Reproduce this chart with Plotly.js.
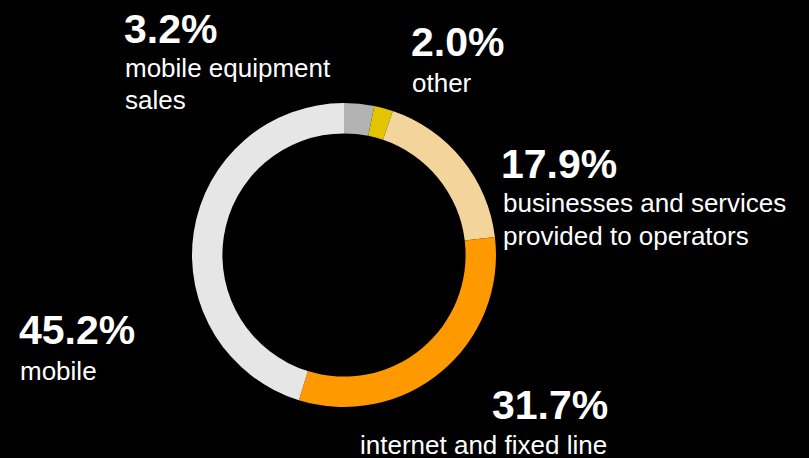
<!DOCTYPE html>
<html>
<head>
<meta charset="utf-8">
<script src="https://cdn.plot.ly/plotly-3.0.1.min.js"></script>
<style>html,body{margin:0;padding:0;background:#000;}#chart{width:809px;height:458px;}</style>
</head>
<body>
<div id="chart"></div>
<script>
var categories = ["mobile equipment sales", "other", "businesses and services provided to operators", "internet and fixed line", "mobile"];
var shares = [3.2, 2.0, 17.9, 31.7, 45.2];
var labelLines = [["mobile equipment", "sales"], ["other"], ["businesses and services", "provided to operators"], ["internet and fixed line"], ["mobile"]];
var sliceColors = ["#b3b3b3", "#e3c400", "#f3d59b", "#ff9900", "#e6e6e6"];

var W = 809, H = 458;
function px(x) { return x / W; }
function py(y) { return 1 - y / H; }

// label anchor positions (pixels): [pct left x, pct top y, label left x, label top y of first line, line step, label borderpad]
var labelPos = [
  [122, 4, 123, 51.5, 31, 1],
  [409, 17, 410, 65.5, 31, 1],
  [499, 139, 501, 185.5, 33, 1],
  [490, 380, 359, 428.5, 33, 0],
  [17, 305, 18, 353.5, 33, 1]
];

var annotations = [];
for (var i = 0; i < shares.length; i++) {
  var p = labelPos[i];
  annotations.push({
    xref: "paper", yref: "paper", x: px(p[0]), y: py(p[1]),
    xanchor: "left", yanchor: "top", showarrow: false,
    text: "<b>" + shares[i].toFixed(1) + "%</b>",
    font: {family: "Liberation Sans, Arial, sans-serif", size: 41, color: "#ffffff"}
  });
  for (var j = 0; j < labelLines[i].length; j++) {
    annotations.push({
      xref: "paper", yref: "paper", x: px(p[2]), y: py(p[3] + j * p[4]),
      xanchor: "left", yanchor: "top", showarrow: false, borderpad: p[5],
      text: labelLines[i][j],
      font: {family: "Liberation Sans, Arial, sans-serif", size: 26, color: "#ffffff"}
    });
  }
}

var cx = 344, cy = 255, R = 152;
var trace = {
  type: "pie",
  labels: categories,
  values: shares,
  sort: false,
  direction: "clockwise",
  rotation: 0,
  hole: 0.80,
  textinfo: "none",
  hoverinfo: "label+percent",
  marker: {colors: sliceColors, line: {width: 0}},
  domain: {x: [px(cx - R), px(cx + R)], y: [py(cy + R), py(cy - R)]},
  showlegend: false
};

var layout = {
  width: W, height: H,
  margin: {l: 0, r: 0, t: 0, b: 0},
  paper_bgcolor: "#000000",
  plot_bgcolor: "#000000",
  showlegend: false,
  annotations: annotations
};

Plotly.newPlot("chart", [trace], layout, {displayModeBar: false, staticPlot: true});
</script>
</body>
</html>
